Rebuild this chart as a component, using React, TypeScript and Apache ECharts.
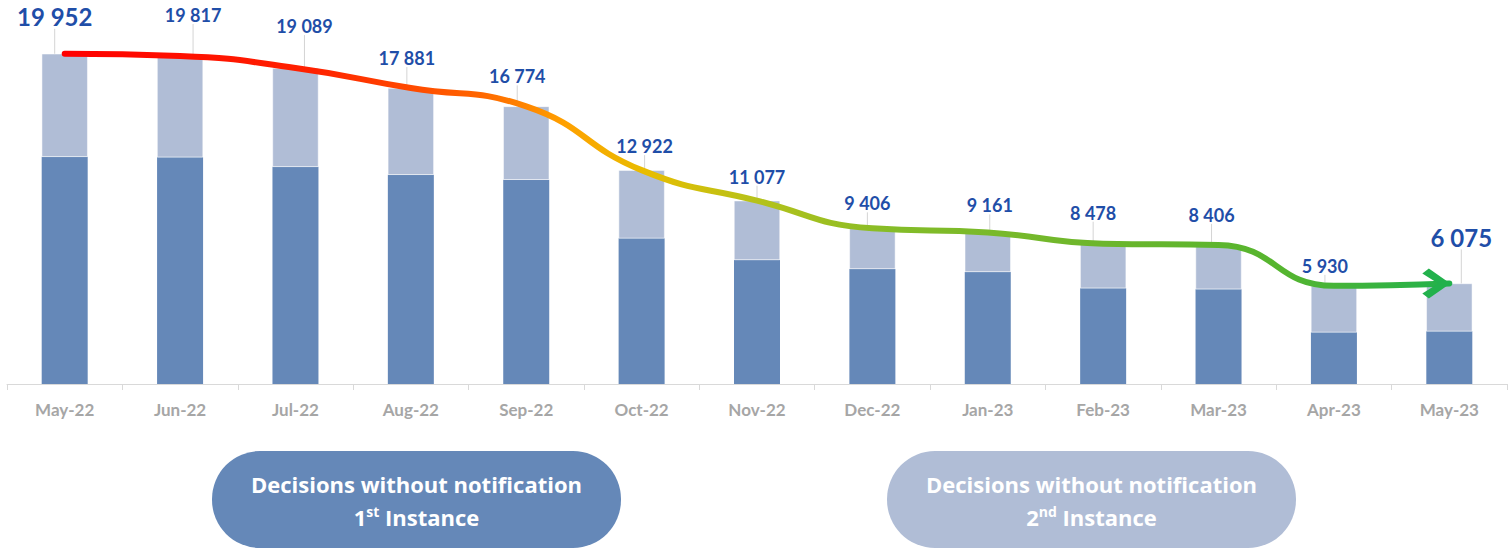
import React, { useEffect, useRef } from "react";
import * as echarts from "echarts";

const categories = ["May-22", "Jun-22", "Jul-22", "Aug-22", "Sep-22", "Oct-22", "Nov-22", "Dec-22", "Jan-23", "Feb-23", "Mar-23", "Apr-23", "May-23"];
const totals = [19952, 19817, 19089, 17881, 16774, 12922, 11077, 9406, 9161, 8478, 8406, 5930, 6075];
const firstInstance = [13725, 13700, 13120, 12640, 12340, 8800, 7490, 6950, 6770, 5790, 5730, 3120, 3180];
const secondInstance = [6227, 6117, 5969, 5241, 4434, 4122, 3587, 2456, 2391, 2688, 2676, 2810, 2895];
const legendLine1 = "Decisions without notification";
const legendNames = [
  { num: "1", sup: "st" },
  { num: "2", sup: "nd" },
];

// label placement offsets (style, not data)
const labelDx = [-10, 13, 9, -4, -9, 3, 0, -5, 2, -10, -7, -9, 12];
const labelDy = [-20, -27, -28, -16, -16, -10, -10, -11, -13, -17, -16, -6, -29];
const bigLabel = [0, 12];

const FONT = 'Lato, "Open Sans", sans-serif';
const LEGEND_FONT = '"Open Sans", Lato, sans-serif';
const DARK = "#6588b8";
const LIGHT = "#b0bdd6";
const LABEL_BLUE = "#1f4ea8";

const fmt = (v: number) => String(v).replace(/\B(?=(\d{3})+(?!\d))/g, " ");

const ARROW = "path://M0,5 L7,0 L30,15 L7,30 L0,25 L17,15 Z";

export default function App() {
  const ref = useRef<HTMLDivElement>(null);
  useEffect(() => {
    if (!ref.current) return;
    const chart = echarts.init(ref.current, undefined, { renderer: "svg" });

    const pill = (x: number, color: string, idx: number) => ({
      type: "group",
      x,
      y: 451,
      children: [
        { type: "rect", shape: { x: 0, y: 0, width: 409, height: 97, r: 48 }, style: { fill: color } },
        {
          type: "text",
          style: {
            text: legendLine1,
            x: 204.5,
            y: 33,
            align: "center",
            verticalAlign: "middle",
            fill: "#ffffff",
            fontFamily: LEGEND_FONT,
            fontSize: 22,
            fontWeight: "bold",
          },
        },
        {
          type: "text",
          style: {
            text: `{a|${legendNames[idx].num}}{s|${legendNames[idx].sup}}{a| Instance}`,
            x: 204.5,
            y: 66,
            align: "center",
            verticalAlign: "middle",
            fill: "#ffffff",
            rich: {
              a: { fontFamily: LEGEND_FONT, fontSize: 22, fontWeight: "bold", fill: "#ffffff", lineHeight: 26 },
              s: { fontFamily: LEGEND_FONT, fontSize: 14, fontWeight: "bold", fill: "#ffffff", verticalAlign: "top", lineHeight: 15 },
            },
          },
        },
      ],
    });

    const option: any = {
      animation: false,
      grid: { left: 7, right: 3, top: 53, bottom: 164 },
      xAxis: {
        type: "category",
        data: categories,
        axisLine: { lineStyle: { color: "#d9d9d9", width: 1 } },
        axisTick: { show: true, length: 6, lineStyle: { color: "#d9d9d9" } },
        axisLabel: { color: "#a6a6a6", fontWeight: "bold", fontSize: 17, fontFamily: FONT, margin: 17 },
      },
      yAxis: { type: "value", min: 0, max: 20000, show: false, splitLine: { show: false } },
      series: [
        {
          type: "bar",
          stack: "total",
          data: firstInstance,
          barWidth: 46,
          itemStyle: { color: DARK },
        },
        {
          type: "bar",
          stack: "total",
          data: secondInstance.map((v, i) =>
            bigLabel.includes(i) ? { value: v, label: { fontSize: 24 } } : v
          ),
          barWidth: 46,
          itemStyle: { color: LIGHT, borderColor: "#ffffff", borderWidth: 0.5 },
          label: {
            show: true,
            position: "top",
            distance: 5,
            color: LABEL_BLUE,
            fontFamily: FONT,
            fontWeight: "bold",
            fontSize: 18,
            formatter: (p: any) => fmt(totals[p.dataIndex]),
          },
          labelLine: { show: true, lineStyle: { color: "#d4d4d4", width: 1 } },
          labelLayout: (p: any) => ({ dx: labelDx[p.dataIndex], dy: labelDy[p.dataIndex] }),
        },
        {
          type: "line",
          data: totals.map((v, i) =>
            i === totals.length - 1
              ? {
                  value: v,
                  symbol: ARROW,
                  symbolSize: [28, 30],
                  symbolOffset: [-13, 0],
                  itemStyle: { color: "#22b14c" },
                }
              : v
          ),
          smooth: 0.5,
          symbol: "none",
          showSymbol: true,
          z: 5,
          lineStyle: {
            width: 6,
            cap: "round",
            color: new echarts.graphic.LinearGradient(0, 0, 1, 0, [
              { offset: 0, color: "#ff0000" },
              { offset: 0.18, color: "#ff2200" },
              { offset: 0.3, color: "#ff6600" },
              { offset: 0.36, color: "#ffa000" },
              { offset: 0.42, color: "#e8bd00" },
              { offset: 0.5, color: "#b5c21a" },
              { offset: 0.6, color: "#84bc28" },
              { offset: 0.75, color: "#6cb62c" },
              { offset: 0.88, color: "#55b52f" },
              { offset: 1, color: "#22b14c" },
            ]),
          },
        },
      ],
      graphic: [pill(212, DARK, 0), pill(887, LIGHT, 1)],
    };
    chart.setOption(option);
    return () => chart.dispose();
  }, []);
  return (
    <div
      ref={ref}
      style={{ position: "absolute", left: 0, top: 0, width: 1510, height: 548 }}
    />
  );
}
